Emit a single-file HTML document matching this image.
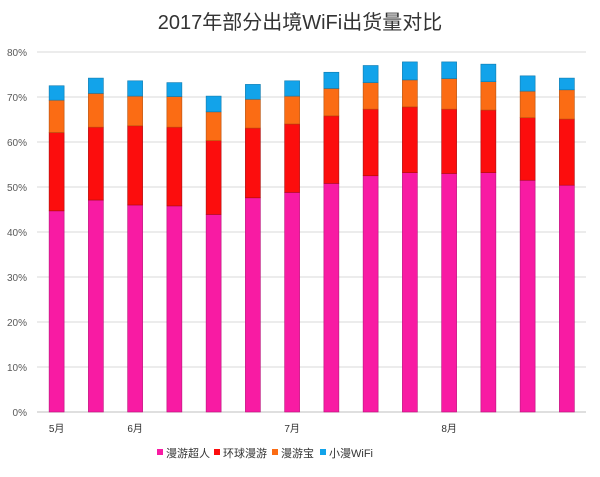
<!DOCTYPE html>
<html><head><meta charset="utf-8"><style>
body{margin:0;background:#fff;width:600px;height:472px;overflow:hidden;font-family:"Liberation Sans","Noto Sans CJK SC",sans-serif}
</style></head><body>
<svg id="c" width="600" height="472" xmlns="http://www.w3.org/2000/svg">
<text x="300" y="29" text-anchor="middle" font-size="20" fill="#333" font-family="Liberation Sans, Noto Sans CJK SC, sans-serif">2017年部分出境WiFi出货量对比</text>
</svg>
<script>
const categories=["5月","","6月","","","","7月","","","","8月","","",""];
const s1=[44.7,47.1,46.0,45.8,43.9,47.6,48.8,50.8,52.5,53.2,53.0,53.2,51.5,50.4];
const s2=[17.4,16.2,17.6,17.5,16.4,15.5,15.2,15.0,14.8,14.6,14.3,13.9,13.9,14.7];
const s3=[7.2,7.5,6.6,6.8,6.4,6.4,6.2,6.1,5.9,6.0,6.8,6.3,5.9,6.5];
const s4=[3.2,3.4,3.4,3.1,3.5,3.3,3.4,3.6,3.8,4.0,3.7,3.9,3.4,2.6];
const seriesNames=["漫游超人","环球漫游","漫游宝","小漫WiFi"];
const yTicks=[0,10,20,30,40,50,60,70,80];
const svg=document.getElementById('c');const NS="http://www.w3.org/2000/svg";
const colors=["#f81ba3","#fc0d0d","#fb6c14","#12a3ea"];
const strokes=["#b8127a","#a80c0c","#b5500e","#0c78ad"];
const y=v=>412-v*4.5;const x0=37,step=39.25;const xc=i=>x0+step*(i+0.5);
function mk(t,a){const e=document.createElementNS(NS,t);for(const k in a)e.setAttribute(k,a[k]);svg.appendChild(e);return e;}
yTicks.forEach(t=>{
const g=mk('line',{x1:37,x2:586,y1:y(t),y2:y(t),stroke:t?'#d9d9d9':'#bfbfbf','stroke-width':1});


const l=mk('text',{x:27,y:y(t)+4,'text-anchor':'end','font-size':10,fill:'#595959'});l.textContent=t+'%';


});
const series=[s1,s2,s3,s4];
categories.forEach((c,i)=>{
let base=0;
series.forEach((s,k)=>{
const r=mk('rect',{x:xc(i)-7.5,y:y(base+s[i]),width:15,height:s[i]*4.5,fill:colors[k],stroke:strokes[k],'stroke-width':0.6});


base+=s[i];
});
if(c){const t=mk('text',{x:xc(i),y:432,'text-anchor':'middle','font-size':10,fill:'#333'});t.textContent=c;

}
});
const lx=[157,214,272,320];
seriesNames.forEach((n,k)=>{
const r=mk('rect',{x:lx[k],y:449,width:6,height:6,fill:colors[k]});


const t=mk('text',{x:lx[k]+9,y:457,'font-size':11,fill:'#333'});t.textContent=n;


});
</script>
</body></html>
